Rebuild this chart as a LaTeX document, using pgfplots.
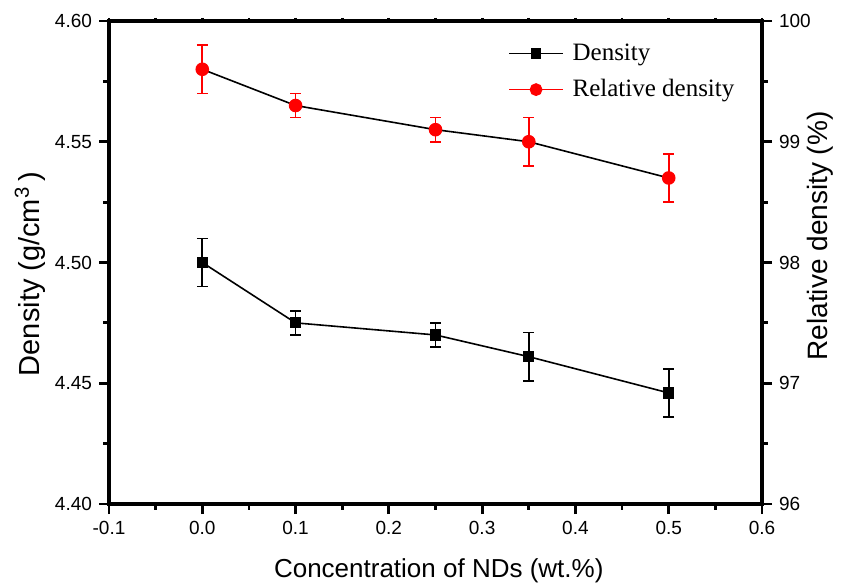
\documentclass[border=0pt]{standalone}
\usepackage{pgfplots}
\pgfplotsset{compat=1.18}
\usepackage{fontspec}
\setmainfont{Liberation Sans}
\newfontfamily\timesf{Liberation Serif}
\begin{document}
\begin{tikzpicture}
\pgfplotsset{
  common/.style={
    scale only axis, width=326.5pt, height=241.5pt,
    xmin=-0.1, xmax=0.6,
    tick align=outside,
    major tick length=5pt, minor tick length=2.8pt,
    axis line style={line width=1.8pt},
    every tick/.style={line width=1.4pt, black},
    /pgf/number format/assume math mode=true,
    ticklabel style={font=\fontsize{9.5}{11}\selectfont},
    label style={font=\fontsize{13}{15}\selectfont},
  }
}
\begin{axis}[common, name=main,
  ymin=4.40, ymax=4.60,
  xtick={-0.1,0,0.1,0.2,0.3,0.4,0.5,0.6}, minor x tick num=1,
  ytick={4.40,4.45,4.50,4.55,4.60}, minor y tick num=1,
  xtick pos=bottom,
  ytick pos=left,
  xticklabel style={/pgf/number format/.cd, fixed, fixed zerofill, precision=1},
  yticklabel style={/pgf/number format/.cd, fixed, fixed zerofill, precision=2},
  xlabel={Concentration of NDs (wt.\%)},
  ylabel={Density (g/cm\textsuperscript{3}\,)},
  xlabel style={at={(axis description cs:0.505,-0.139)}, anchor=center},
  ylabel style={at={(axis description cs:-0.121,0.476)}, anchor=center, font=\fontsize{14.5}{16}\selectfont},
]
\addplot[black, line width=0.8pt, mark=square*, mark size=2.4pt,
  error bars/.cd, y dir=both, y explicit,
  error bar style={line width=0.8pt, black},
  error mark options={rotate=90, mark size=2.7pt, line width=0.8pt, black}]
  table[x=x, y=y, y error=e] {
x y e
0.00 4.500 0.010
0.10 4.475 0.005
0.25 4.470 0.005
0.35 4.461 0.010
0.50 4.446 0.010
};
\end{axis}
\begin{axis}[common,
  ymin=4.40, ymax=4.60,
  axis y line=none,
  axis x line*=top,
  xtick={-0.1,0,0.1,0.2,0.3,0.4,0.5,0.6}, minor x tick num=1,
  major tick length=1.5pt, minor tick length=1.5pt,
  xticklabels={},
]
\end{axis}
\begin{axis}[common,
  ymin=96, ymax=100,
  axis x line=none,
  axis y line*=right,
  ytick={96,97,98,99,100}, minor y tick num=1,
  ylabel={Relative density (\%)},
  ylabel style={at={(axis description cs:1.089,0.555)}, anchor=center, font=\fontsize{14}{16}\selectfont},
  legend style={at={(0.602,0.97)}, anchor=north west, draw=none, fill=none,
    font=\timesf\fontsize{12.5}{14}\selectfont, row sep=4pt, column sep=2.5pt},
  legend cell align=left,
  legend image code/.code={
    \draw[mark repeat=2, mark phase=2, #1] plot coordinates {(0cm,0cm) (0.47cm,0cm) (0.94cm,0cm)};
  },
]
\addplot[forget plot, black, line width=0.8pt, mark=*, mark size=3pt, mark options={red, fill=red},
  error bars/.cd, y dir=both, y explicit,
  error bar style={line width=0.8pt, red},
  error mark options={rotate=90, mark size=2.7pt, line width=0.8pt, red}]
  table[x=x, y=y, y error=e] {
x y e
0.00 99.6 0.2
0.10 99.3 0.1
0.25 99.1 0.1
0.35 99.0 0.2
0.50 98.7 0.2
};
\addlegendimage{black, line width=0.8pt, mark=square*, mark size=2.2pt}
\addlegendentry{Density}
\addlegendimage{red, line width=0.8pt, mark=*, mark size=2.8pt, mark options={fill=red}}
\addlegendentry{Relative density}
\end{axis}
\pgfresetboundingbox
\path[use as bounding box] ([xshift=-54.5pt,yshift=-41.5pt]main.south west) rectangle ([xshift=40.5pt,yshift=10.5pt]main.north east);
\end{tikzpicture}
\end{document}
